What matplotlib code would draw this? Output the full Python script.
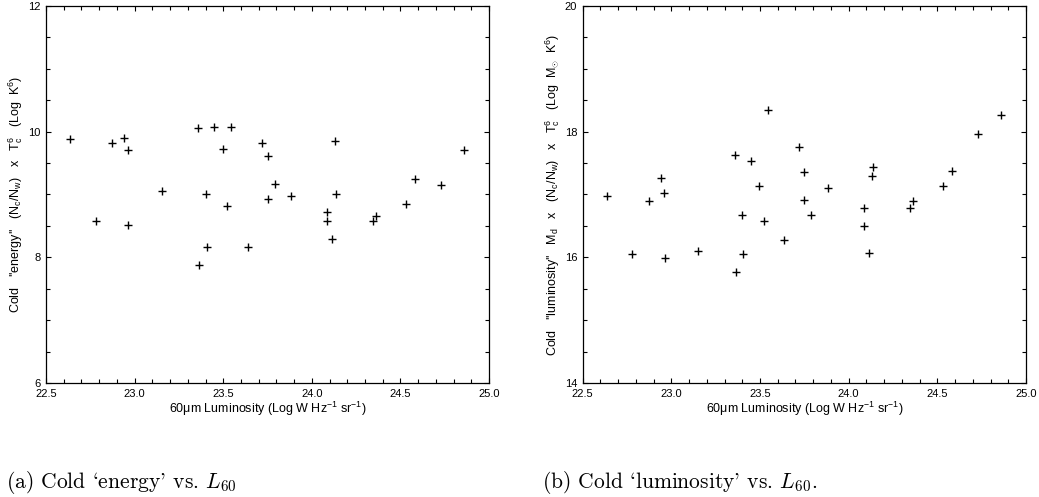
import matplotlib

matplotlib.use("Agg")
import matplotlib.pyplot as plt  # noqa: E402
from matplotlib.ticker import MultipleLocator  # noqa: E402

# log 60um luminosity (shared by both panels)
l60 = [22.637, 22.78, 22.872, 22.94, 22.96, 22.963, 23.152, 23.357,
       23.365, 23.40, 23.406, 23.45, 23.497, 23.524, 23.543, 23.637,
       23.72, 23.75, 23.75, 23.79, 23.883, 24.084, 24.088, 24.115,
       24.132, 24.135, 24.347, 24.364, 24.53, 24.58, 24.727, 24.86]

# panel (a): cold "energy"
energy = [9.88, 8.58, 9.82, 9.90, 9.70, 8.52, 9.05, 10.05,
          7.87, 9.01, 8.16, 10.07, 9.72, 8.82, 10.08, 8.16,
          9.82, 9.62, 8.93, 9.17, 8.98, 8.58, 8.72, 8.29,
          9.85, 9.01, 8.57, 8.65, 8.85, 9.24, 9.15, 9.71]

# panel (b): cold "luminosity"
lumin = [16.98, 16.06, 16.90, 17.26, 17.03, 15.99, 16.10, 17.63,
         15.77, 16.67, 16.06, 17.53, 17.13, 16.57, 18.35, 16.27,
         17.75, 17.36, 16.92, 16.67, 17.11, 16.50, 16.79, 16.07,
         17.30, 17.44, 16.78, 16.89, 17.14, 17.38, 17.96, 18.27]

XLABEL = r"60$\mu$m Luminosity (Log W Hz$^{-1}$ sr$^{-1}$)"
YLABEL_A = (r"Cold   ''energy''   (N$_{c}$/N$_{w}$)   x   T$_{c}^{6}$"
            r"   (Log  K$^{6}$)")
YLABEL_B = (r"Cold   ''luminosity''   M$_{d}$   x   (N$_{c}$/N$_{w}$)   x   "
            r"T$_{c}^{6}$   (Log  M$_{\odot}$  K$^{6}$)")

plt.rcParams["font.family"] = ["Liberation Sans", "DejaVu Sans"]
plt.rcParams["mathtext.fontset"] = "custom"
plt.rcParams["mathtext.rm"] = "Liberation Sans"
plt.rcParams["mathtext.it"] = "Liberation Sans"
plt.rcParams["mathtext.bf"] = "Liberation Sans:bold"


def style_axes(ax, ylim, ylabel):
    ax.set_xlim(22.5, 25.0)
    ax.set_ylim(*ylim)
    ax.xaxis.set_major_locator(MultipleLocator(0.5))
    ax.xaxis.set_minor_locator(MultipleLocator(0.1))
    ax.yaxis.set_major_locator(MultipleLocator(2))
    ax.yaxis.set_minor_locator(MultipleLocator(0.5))
    ax.xaxis.set_major_formatter(lambda v, p: f"{v:.1f}")
    ax.yaxis.set_major_formatter(lambda v, p: f"{v:.0f}")
    ax.tick_params(which="both", direction="in", top=True, right=True,
                   labelsize=8, width=0.8, pad=4)
    ax.tick_params(which="major", length=3.5)
    ax.tick_params(which="minor", length=3)
    for s in ax.spines.values():
        s.set_linewidth(0.9)
    ax.set_xlabel(XLABEL, fontsize=9, labelpad=1)
    ax.set_ylabel(ylabel, fontsize=9, labelpad=2)


fig = plt.figure(figsize=(10.39, 4.97), dpi=100)
ax1 = fig.add_axes([0.0443, 0.2294, 0.4264, 0.7586])
ax2 = fig.add_axes([0.5608, 0.2294, 0.4267, 0.7586])

ax1.plot(l60, energy, "+", color="black", ms=5.5, mew=1.0)
ax2.plot(l60, lumin, "+", color="black", ms=5.5, mew=1.0)

style_axes(ax1, (6, 12), YLABEL_A)
style_axes(ax2, (14, 20), YLABEL_B)

cap_kw = dict(fontsize=15.5, family="cmr10", math_fontfamily="cm",
              va="baseline", ha="left")
fig.text(0.006, 0.018, "(a) Cold `energy' vs. $L_{60}$", **cap_kw)
fig.text(0.522, 0.018, "(b) Cold `luminosity' vs. $L_{60}$.", **cap_kw)

fig.savefig("out.png", dpi=100)
plt.close(fig)
